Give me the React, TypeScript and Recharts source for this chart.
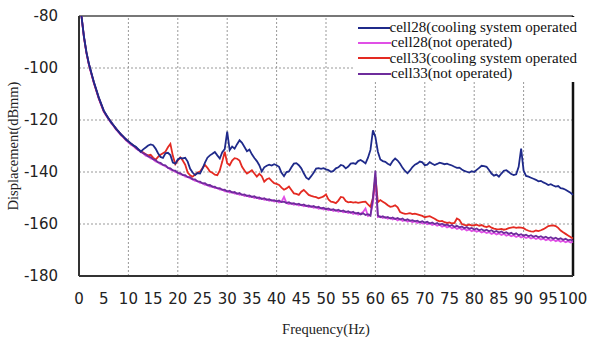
import { LineChart, Line, XAxis, YAxis, ReferenceLine } from "recharts";

// frequency bins (Hz), 0.5 Hz spacing
const FREQ = [
  0.5, 1, 1.5, 2, 2.5, 3, 3.5, 4, 4.5, 5,
  5.5, 6, 6.5, 7, 7.5, 8, 8.5, 9, 9.5, 10,
  10.5, 11, 11.5, 12, 12.5, 13, 13.5, 14, 14.5, 15,
  15.5, 16, 16.5, 17, 17.5, 18, 18.5, 19, 19.5, 20,
  20.5, 21, 21.5, 22, 22.5, 23, 23.5, 24, 24.5, 25,
  25.5, 26, 26.5, 27, 27.5, 28, 28.5, 29, 29.5, 30,
  30.5, 31, 31.5, 32, 32.5, 33, 33.5, 34, 34.5, 35,
  35.5, 36, 36.5, 37, 37.5, 38, 38.5, 39, 39.5, 40,
  40.5, 41, 41.5, 42, 42.5, 43, 43.5, 44, 44.5, 45,
  45.5, 46, 46.5, 47, 47.5, 48, 48.5, 49, 49.5, 50,
  50.5, 51, 51.5, 52, 52.5, 53, 53.5, 54, 54.5, 55,
  55.5, 56, 56.5, 57, 57.5, 58, 58.5, 59, 59.5, 60,
  60.5, 61, 61.5, 62, 62.5, 63, 63.5, 64, 64.5, 65,
  65.5, 66, 66.5, 67, 67.5, 68, 68.5, 69, 69.5, 70,
  70.5, 71, 71.5, 72, 72.5, 73, 73.5, 74, 74.5, 75,
  75.5, 76, 76.5, 77, 77.5, 78, 78.5, 79, 79.5, 80,
  80.5, 81, 81.5, 82, 82.5, 83, 83.5, 84, 84.5, 85,
  85.5, 86, 86.5, 87, 87.5, 88, 88.5, 89, 89.5, 90,
  90.5, 91, 91.5, 92, 92.5, 93, 93.5, 94, 94.5, 95,
  95.5, 96, 96.5, 97, 97.5, 98, 98.5, 99, 99.5, 100,
];

// cell28 (cooling system operated)
const CELL28_ON = [
  -80, -87.8, -93.8, -98.3, -101.8, -105.3, -108.3, -111.3, -113.8, -116.3,
  -118, -119.4, -120.9, -122, -123.4, -124.4, -125.6, -126.4, -127.5, -128.2,
  -129, -129.7, -130.3, -131.2, -132.2, -131.3, -130.6, -129.8, -129.4, -129.7,
  -131, -132.8, -134.2, -134.6, -132.8, -132.6, -133.5, -136.4, -136.8, -135.2,
  -134.6, -134.8, -134.5, -136, -138.8, -140.2, -141.2, -140.4, -140.6, -138.7,
  -136.4, -134.5, -133.6, -133, -132.3, -133.6, -134.8, -132.4, -131.2, -124.5,
  -131.6, -130.2, -131, -129.3, -127.8, -128.8, -130.4, -132, -131.4, -133.2,
  -134.6, -135.8, -137.4, -139.8, -138.2, -137.6, -137.2, -137.5, -137, -137.4,
  -138, -140.3, -141.6, -140, -139.8, -138.2, -136.8, -136.6, -137.4, -138.6,
  -140.5, -142.2, -142.8, -141.6, -140.3, -138.7, -138.5, -138.8, -138.5, -139,
  -139.3, -139.9, -139.6, -138.6, -138.2, -137.3, -137.6, -138.6, -137.9, -136.8,
  -136.6, -136.9, -135.8, -135.4, -136, -136.7, -134.5, -131.5, -124, -126.5,
  -132.2, -135.2, -135.8, -136.1, -136.8, -137.3, -135.8, -134.8, -135.6, -136.8,
  -138.4, -139.6, -140.5, -139.4, -138.1, -137.2, -136.7, -136, -136.3, -137.4,
  -137.2, -136.2, -136.8, -137.3, -136.9, -136.4, -136.7, -137, -136.8, -137.2,
  -137.5, -138, -138.4, -138.3, -139, -139.6, -139.9, -140.2, -139.7, -140,
  -139.2, -138.4, -137.6, -137.7, -138, -139.2, -140.6, -141.4, -141, -141.8,
  -140.6, -139.5, -139.3, -140, -140.8, -141.2, -140.9, -138, -131, -139.5,
  -141.5, -141.8, -142.2, -142.6, -143, -143.6, -143.4, -144, -144.4, -145,
  -144.7, -145.2, -145.6, -145.4, -146.2, -146.4, -146.8, -147.4, -148, -148.8,
];

// cell28 (not operated)
const CELL28_OFF = [
  -80, -88.2, -94.3, -98.8, -102.3, -105.8, -108.7, -111.8, -114.3, -116.8,
  -118.4, -119.7, -121.2, -122.3, -123.7, -124.7, -125.9, -126.7, -127.8, -128.6,
  -129.5, -130, -131, -131.5, -132.4, -132.8, -133.7, -134, -134.8, -135.1,
  -135.9, -136.2, -137, -137.3, -137.9, -138.3, -139.1, -139.3, -140, -140.2,
  -140.9, -141, -141.8, -141.9, -142.5, -142.8, -143.4, -143.5, -144.2, -144.3,
  -144.9, -144.9, -145.6, -145.5, -146.2, -146.1, -146.8, -146.7, -147.4, -147.3,
  -147.9, -147.7, -148.3, -148.2, -148.8, -148.6, -149.2, -149, -149.6, -149.4,
  -150, -149.7, -150.4, -150.1, -150.7, -150.5, -151.1, -150.8, -151.4, -151.1,
  -151.7, -151.4, -149.6, -151.9, -152.3, -152, -152.6, -152.3, -152.9, -152.6,
  -153.2, -152.9, -153.5, -153.2, -153.8, -153.5, -154.1, -153.8, -154.4, -154.1,
  -154.7, -154.4, -155, -154.6, -155.3, -154.9, -155.5, -155.2, -155.8, -155.4,
  -156.1, -155.7, -156.4, -156, -155.4, -154, -156.9, -156.5, -152, -143,
  -157.3, -157, -157.7, -157.3, -158, -157.6, -158.3, -157.9, -158.6, -158.1,
  -158.8, -158.4, -159.1, -158.7, -159.3, -158.9, -159.6, -159.2, -159.8, -159.4,
  -160.1, -159.7, -160.4, -160, -160.7, -160.3, -161, -160.6, -161.3, -160.9,
  -161.6, -161.2, -161.9, -161.5, -162.2, -161.8, -162.5, -162.1, -162.8, -162.3,
  -163, -162.6, -163.3, -162.9, -163.5, -163.1, -163.8, -163.4, -164, -163.6,
  -164.2, -163.8, -164.5, -164.1, -164.7, -164.3, -165, -164.5, -165.2, -164.8,
  -165.4, -165, -165.6, -165.2, -165.8, -165.4, -166, -165.6, -166.2, -165.8,
  -166.4, -166, -166.6, -166.2, -166.8, -166.4, -167, -166.6, -167.1, -166.8,
];

// cell33 (cooling system operated)
const CELL33_ON = [
  -80, -88.1, -94.1, -98.6, -102.1, -105.6, -108.6, -111.6, -114.1, -116.6,
  -118.1, -119.5, -120.9, -122.1, -123.4, -124.5, -125.6, -126.5, -127.5, -128.3,
  -129.1, -129.8, -130.6, -131.3, -132, -132.5, -133.2, -133.6, -133.4, -134.5,
  -135.3, -134.2, -133.4, -132.8, -132.2, -130.5, -129.2, -133.8, -137, -135.6,
  -134.4, -135.6, -137.2, -140.2, -141.3, -141.8, -141, -140.2, -139.8, -138.5,
  -137.3, -138.4, -139.8, -140.3, -141, -141.2, -139.4, -136, -132.2, -136.6,
  -137.4, -135.6, -134.7, -134.9, -135.6, -138, -139.4, -140.6, -140, -139.3,
  -140.6, -141.8, -140.7, -141.6, -143.7, -142.8, -142.4, -143.4, -144.3, -144.6,
  -145, -146, -146.8, -146.3, -145.6, -146.9, -148.2, -148.4, -148.8, -147.6,
  -146.9, -147.8, -148.8, -149.2, -149.5, -149.7, -150.1, -149.8, -149.4, -148.6,
  -150.6, -151.4, -151.6, -152, -151, -149.6, -149.8, -151.2, -151.7, -151.5,
  -151.8, -151.6, -151.9, -151.7, -151.5, -151.4, -152.5, -153.4, -150, -142,
  -151.6, -150.8, -151.4, -152, -152.8, -153.4, -153.2, -152.8, -153.6, -155.4,
  -155.8, -156.1, -156, -155.8, -156.2, -156, -156.3, -156.6, -156.9, -157.4,
  -157.2, -157, -157.5, -158, -158.6, -159, -158.8, -159.3, -159.6, -159.4,
  -159.8, -159.6, -157.9, -158.4, -160, -160.3, -160.5, -160.2, -160.6, -160.4,
  -160.3, -160.7, -160.4, -160.9, -161.2, -160.8, -161.4, -161.8, -162, -162.1,
  -161.9, -162.2, -162, -161.6, -161.4, -161.2, -161.5, -161.3, -161.4, -161.6,
  -162.2, -162.6, -162.8, -162.9, -162.5, -162.7, -162.4, -162, -161.4, -160.8,
  -160.6, -160.5, -160.8, -161.5, -162.5, -163.2, -163.8, -164.4, -165, -165.6,
];

// cell33 (not operated)
const CELL33_OFF = [
  -80, -88, -94, -98.5, -102, -105.5, -108.5, -111.5, -114, -116.5,
  -118, -119.6, -120.7, -122.2, -123.2, -124.6, -125.4, -126.6, -127.3, -128.4,
  -129, -129.9, -130.5, -131.5, -131.9, -132.8, -133.2, -134, -134.3, -135.1,
  -135.4, -136.3, -136.5, -137.3, -137.4, -138.4, -138.6, -139.4, -139.5, -140.3,
  -140.4, -141.2, -141.2, -142, -142, -142.8, -142.8, -143.6, -143.7, -144.4,
  -144.3, -145.1, -145, -145.7, -145.6, -146.3, -146.2, -146.9, -146.8, -147.5,
  -147.2, -147.9, -147.7, -148.4, -148.1, -148.8, -148.6, -149.2, -149, -149.6,
  -149.3, -150, -149.8, -150.4, -150.1, -150.7, -150.5, -151, -150.8, -151.3,
  -151, -151.6, -151.4, -151.9, -151.6, -152.2, -152, -152.5, -152.2, -152.8,
  -152.5, -153.1, -152.9, -153.4, -153.1, -153.7, -153.4, -154, -153.7, -154.3,
  -154, -154.6, -154.3, -154.9, -154.5, -155.1, -154.8, -155.4, -155.1, -155.7,
  -155.3, -156, -155.7, -156.3, -155.9, -156.5, -156.2, -156.8, -150, -139.5,
  -156.7, -157.4, -157, -157.6, -157.3, -157.9, -157.5, -158.1, -157.7, -158.3,
  -157.9, -158.6, -158.2, -158.8, -158.5, -159, -158.7, -159.3, -158.9, -159.5,
  -159.1, -159.8, -159.4, -160, -159.6, -160.3, -159.9, -160.5, -160.2, -160.8,
  -160.4, -161.1, -160.7, -161.3, -161, -161.6, -161.2, -161.8, -161.5, -162.1,
  -161.7, -162.4, -162, -162.6, -162.2, -162.8, -162.4, -163.1, -162.7, -163.3,
  -162.9, -163.5, -163.2, -163.8, -163.4, -164, -163.6, -164.3, -163.9, -164.5,
  -164.1, -164.7, -164.3, -164.9, -164.5, -165.1, -164.7, -165.3, -164.9, -165.5,
  -165.1, -165.7, -165.3, -165.9, -165.5, -166.1, -165.7, -166.3, -166, -166.5,
];

const X_TICKS = [0, 5, 10, 15, 20, 25, 30, 35, 40, 45, 50, 55, 60, 65, 70, 75, 80, 85, 90, 95, 100];
const Y_TICKS = [-180, -160, -140, -120, -100, -80];
const X_GRID = [10, 20, 30, 40, 50, 60, 70, 80, 90];
const Y_GRID = [-160, -140, -120, -100];

const SERIES = [
  { key: "c28on", name: "cell28(cooling system operated", color: "#1f2a8a" },
  { key: "c28off", name: "cell28(not operated)", color: "#e050e6" },
  { key: "c33on", name: "cell33(cooling system operated", color: "#e42a22" },
  { key: "c33off", name: "cell33(not operated)", color: "#6e2c9c" },
];

const data = FREQ.map((f, i) => ({
  f,
  c28on: CELL28_ON[i],
  c28off: CELL28_OFF[i],
  c33on: CELL33_ON[i],
  c33off: CELL33_OFF[i],
}));

// every 5 Hz, only used to give the grid layer its axes
const gridData = data.filter((d) => d.f % 5 === 0);

const SERIF = "'Liberation Serif', 'Times New Roman', serif";
const tickStyle = { fontFamily: "'DejaVu Sans', sans-serif", fontSize: 15, fill: "#222" };
const hiddenTick = { fontFamily: "'DejaVu Sans', sans-serif", fontSize: 15, fill: "transparent" };
const MARGIN = { top: 16, right: 16, left: 0, bottom: 0 };

function YLabel(props: any) {
  const vb = props.viewBox || { x: 0, y: 16, width: 79, height: 260 };
  const cx = vb.x + 13;
  const cy = vb.y + vb.height / 2;
  return (
    <text
      x={cx}
      y={cy}
      transform={`rotate(-90 ${cx} ${cy})`}
      textAnchor="middle"
      dominantBaseline="central"
      style={{ fontFamily: SERIF, fontSize: 14.5, fill: "#222" }}
    >
      Displacement(dBmm)
    </text>
  );
}

function LegendBox() {
  return (
    <div
      style={{
        position: "absolute",
        left: 355,
        top: 17,
        background: "#fff",
        width: 222,
        height: 65,
        paddingTop: 3,
        boxSizing: "border-box",
        fontFamily: SERIF,
        fontSize: 15,
        lineHeight: "15.3px",
        color: "#111",
        whiteSpace: "nowrap",
      }}
    >
      {SERIES.map((s) => (
        <div key={s.key} style={{ display: "flex", alignItems: "center" }}>
          <span
            style={{
              display: "inline-block",
              width: 33,
              height: 2,
              marginLeft: 3,
              background: s.color,
            }}
          />
          <span>{s.name}</span>
        </div>
      ))}
    </div>
  );
}

// dotted grid + frame, drawn underneath the data chart
function GridLayer() {
  return (
    <LineChart width={589} height={343} data={gridData} margin={MARGIN}>
      <XAxis dataKey="f" type="number" domain={[0, 100]} ticks={X_TICKS} interval={0} height={67} tick={hiddenTick} tickLine={false} tickMargin={11} axisLine={false} />
      <YAxis type="number" domain={[-180, -80]} ticks={Y_TICKS} interval={0} width={79} tick={hiddenTick} tickLine={false} tickMargin={15} axisLine={false} />
      {X_GRID.map((x) => (
        <ReferenceLine key={`gx${x}`} x={x} stroke="#999" strokeDasharray="2 2" />
      ))}
      {Y_GRID.map((y) => (
        <ReferenceLine key={`gy${y}`} y={y} stroke="#999" strokeDasharray="2 2" />
      ))}
      <ReferenceLine y={-80} stroke="#777" strokeWidth={2} ifOverflow="visible" />
      <ReferenceLine x={100} stroke="#111" strokeWidth={2.5} ifOverflow="visible" />
      <Line dataKey="c33off" stroke="transparent" dot={false} isAnimationActive={false} />
    </LineChart>
  );
}

export default function App() {
  // draw order: magenta, red, purple, blue on top
  const order = ["c28off", "c33on", "c33off", "c28on"];
  return (
    <div style={{ position: "absolute", left: 0, top: 0, width: 589, height: 343, background: "#fff" }}>
      <div style={{ position: "absolute", left: 0, top: 0 }}>
        <GridLayer />
      </div>
      <div style={{ position: "absolute", left: 0, top: 0 }}>
        <LineChart width={589} height={343} data={data} margin={MARGIN}>
          <XAxis
            dataKey="f"
            type="number"
            domain={[0, 100]}
            ticks={X_TICKS}
            interval={0}
            height={67}
            tick={tickStyle}
            tickLine={false}
            tickMargin={11}
            axisLine={{ stroke: "#333", strokeWidth: 2 }}
            label={{
              value: "Frequency(Hz)",
              position: "insideBottom",
              offset: 9,
              style: { fontFamily: SERIF, fontSize: 14.5, fill: "#222" },
            }}
          />
          <YAxis
            type="number"
            domain={[-180, -80]}
            ticks={Y_TICKS}
            interval={0}
            width={79}
            tick={tickStyle}
            tickLine={false}
            tickMargin={15}
            axisLine={{ stroke: "#333", strokeWidth: 2 }}
            label={{ content: YLabel }}
          />
          {order.map((k) => {
            const s = SERIES.find((q) => q.key === k)!;
            return (
              <Line
                key={k}
                dataKey={k}
                name={s.name}
                stroke={s.color}
                strokeWidth={1.8}
                dot={false}
                type="linear"
                isAnimationActive={false}
              />
            );
          })}
        </LineChart>
      </div>
      <LegendBox />
    </div>
  );
}
